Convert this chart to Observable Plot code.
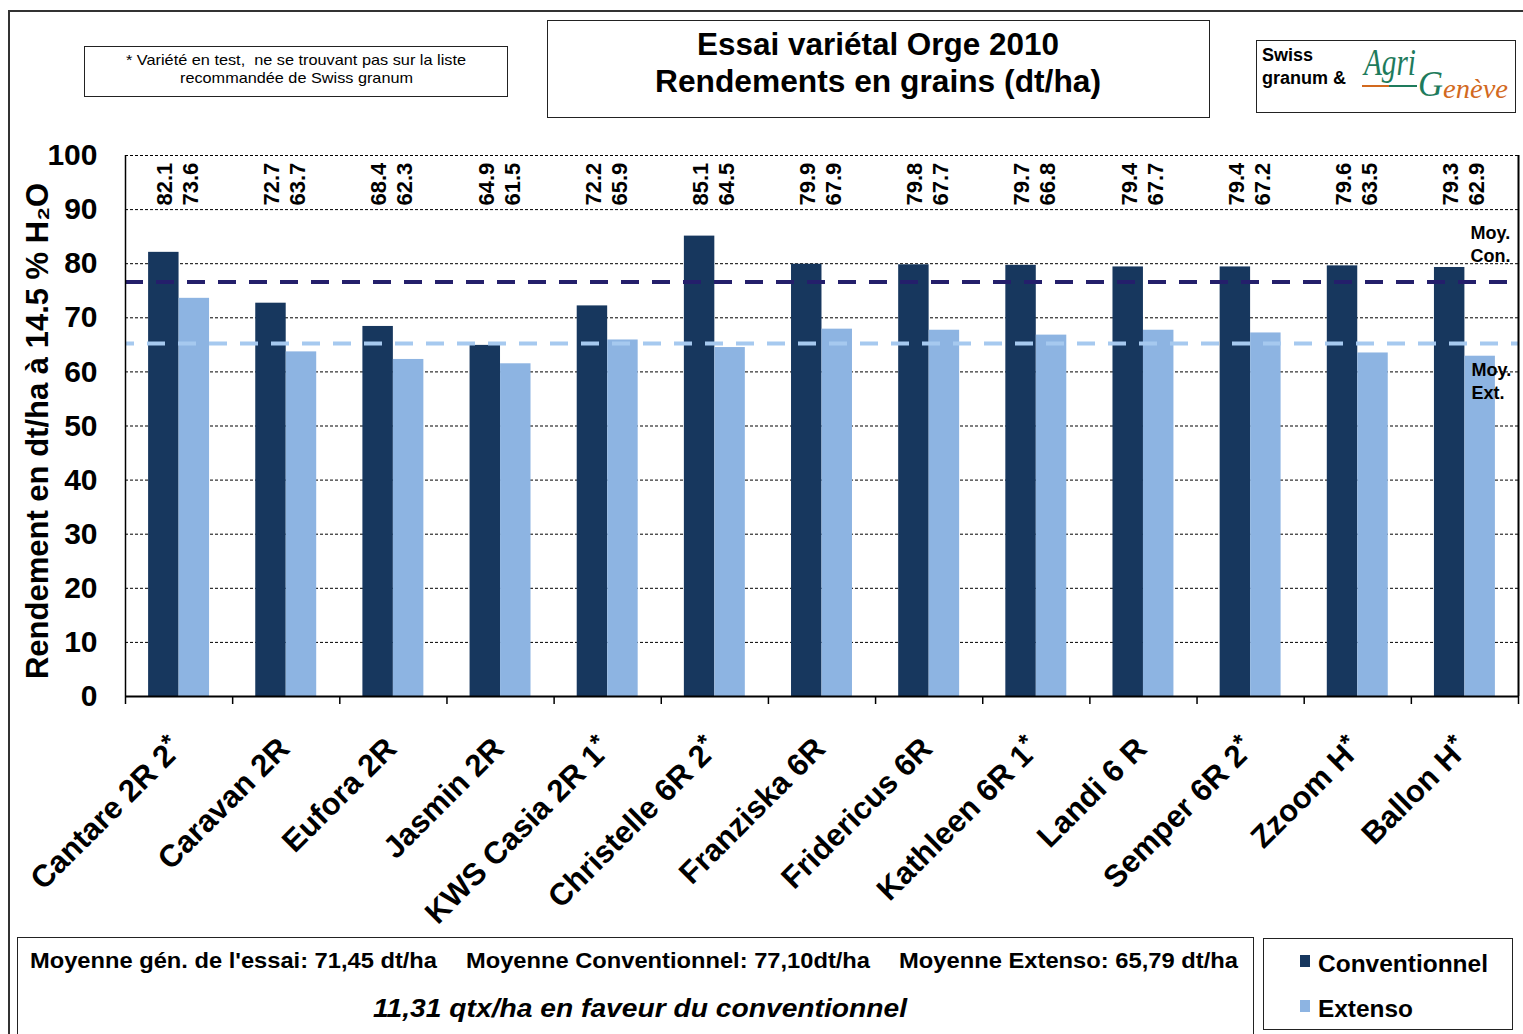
<!DOCTYPE html>
<html><head><meta charset="utf-8">
<script src="https://cdn.jsdelivr.net/npm/d3@7"></script>
<script src="https://cdn.jsdelivr.net/npm/@observablehq/plot@0.6"></script>
<style>
body{margin:0;background:#fff;font-family:"Liberation Sans",Arial,sans-serif;}
#wrap{position:relative;width:1523px;height:1034px;overflow:hidden;background:#fff;}
#chart{position:absolute;left:0;top:0;}
.box{position:absolute;border:1.5px solid #222;box-sizing:border-box;background:#fff;}
.t{position:absolute;white-space:pre;transform-origin:0 50%;color:#000;}
</style></head><body>
<div id="wrap"><div id="chart"></div></div>
<script>
// ---- data ----
const varieties = ["Cantare 2R 2*","Caravan 2R","Eufora 2R","Jasmin 2R","KWS Casia 2R 1*","Christelle 6R 2*","Franziska 6R","Fridericus 6R","Kathleen 6R 1*","Landi 6 R","Semper 6R 2*","Zzoom H*","Ballon H*"];
const conventionnel = [82.1,72.7,68.4,64.9,72.2,85.1,79.9,79.8,79.7,79.4,79.4,79.6,79.3];
const extenso = [73.6,63.7,62.3,61.5,65.9,64.5,67.9,67.7,66.8,67.7,67.2,63.5,62.9];
const moyConLine = [76.6];
const moyExtLine = [65.25];
const yTicks = [0,10,20,30,40,50,60,70,80,90,100];
const yLabel = "Rendement en dt/ha à 14.5 % H₂O";

const dark = "#17375e", light = "#8db4e2";
const FONT = '"Liberation Sans", Arial, sans-serif';
const SERIF = '"Liberation Serif", "DejaVu Serif", serif';
const rows = varieties.map((v,i)=>({v, i, con: conventionnel[i], ext: extenso[i]}));
const bounds = d3.range(0, varieties.length + 1);

const chart = Plot.plot({
  width: 1523, height: 1034,
  marginTop: 155, marginBottom: 338, marginLeft: 125, marginRight: 5,
  style: {fontFamily: FONT, background: "transparent", overflow: "visible", color: "#000"},
  x: {domain: [0, varieties.length], axis: null},
  y: {domain: [0, 100], axis: null},
  marks: [
    Plot.ruleY(yTicks.filter(d => d > 0), {stroke: "#000", strokeWidth: 1, strokeDasharray: "3,2"}),
    Plot.rectY(rows, {x1: d => d.i, x2: d => d.i + 1, y1: 0, y2: "con", fill: dark, insetLeft: 23.1, insetRight: 53.6}),
    Plot.rectY(rows, {x1: d => d.i, x2: d => d.i + 1, y1: 0, y2: "ext", fill: light, insetLeft: 53.6, insetRight: 23.1}),
    Plot.ruleY(moyConLine, {stroke: "#241f6b", strokeWidth: 4, strokeDasharray: "18,13"}),
    Plot.ruleY(moyExtLine, {stroke: "#a6c9ef", strokeWidth: 4, strokeDasharray: "18,13", strokeDashoffset: -22}),
    Plot.ruleX([0], {stroke: "#000", strokeWidth: 1.5}),
    Plot.ruleX([varieties.length], {stroke: "#000", strokeWidth: 2}),
    Plot.ruleY([0], {stroke: "#000", strokeWidth: 2}),
    Plot.axisX({ticks: bounds, tickSize: 8, tickFormat: () => "", stroke: "#000", strokeWidth: 1.5, label: null}),
    Plot.axisY({ticks: yTicks, tickSize: 0, tickPadding: 28, fontSize: 30, fontWeight: "bold", label: null}),
    Plot.text([yLabel], {frameAnchor: "left", dx: -87, dy: 5, rotate: -90, textAnchor: "middle", fontSize: 31, fontWeight: "bold", lineAnchor: "middle"}),
    Plot.text(rows, {x: d => d.i + 0.5, frameAnchor: "top", dy: 50, dx: -14, text: d => d.con.toFixed(1), rotate: -90, textAnchor: "start", lineAnchor: "middle", fontSize: 22, fontWeight: "bold"}),
    Plot.text(rows, {x: d => d.i + 0.5, frameAnchor: "top", dy: 50, dx: 12, text: d => d.ext.toFixed(1), rotate: -90, textAnchor: "start", lineAnchor: "middle", fontSize: 22, fontWeight: "bold"}),
    Plot.text(varieties, {x: (d,i) => i + 0.5, frameAnchor: "bottom", text: d => d, rotate: -45, textAnchor: "end", lineAnchor: "bottom", dx: 5, dy: 54, fontSize: 31, fontWeight: "bold"}),
    Plot.text(["Moy.\nCon."], {frameAnchor: "top-right", dx: -48, dy: 67, textAnchor: "start", lineAnchor: "top", lineHeight: 1.28, fontSize: 18, fontWeight: "bold"}),
    Plot.text(["Moy.\nExt."], {frameAnchor: "top-right", dx: -47, dy: 204, textAnchor: "start", lineAnchor: "top", lineHeight: 1.28, fontSize: 18, fontWeight: "bold"})
  ]
});
document.getElementById("chart").appendChild(chart);

// superscript asterisks on variety labels
chart.querySelectorAll("text").forEach(t => {
  if (t.children.length === 0 && varieties.includes(t.textContent) && t.textContent.endsWith("*")) {
    const base = t.textContent.slice(0, -1);
    t.textContent = base;
    const ts = document.createElementNS("http://www.w3.org/2000/svg", "tspan");
    ts.setAttribute("dy", "-0.35em");
    ts.setAttribute("font-size", "0.8em");
    ts.textContent = "*";
    t.appendChild(ts);
  }
});

// ---- annotations (HTML) ----
const wrap = document.getElementById("wrap");
function box(l, t, w, h, extra) {
  const d = document.createElement("div");
  d.className = "box";
  Object.assign(d.style, {left: l + "px", top: t + "px", width: w + "px", height: h + "px"}, extra || {});
  wrap.appendChild(d);
  return d;
}
function txt(s, o) {
  const d = document.createElement("div");
  d.className = "t";
  d.textContent = s;
  const size = o.size;
  Object.assign(d.style, {
    fontSize: size + "px", lineHeight: size + "px",
    fontWeight: o.weight || "normal", fontStyle: o.style || "normal",
    fontFamily: o.family || FONT, color: o.color || "#000",
    top: (o.y - 0.49 * size) + "px"
  });
  wrap.appendChild(d);
  const w = d.getBoundingClientRect().width;
  const sx = o.width ? o.width / w : 1;
  let left = o.x;
  if (o.anchor === "middle") left = o.x - (o.width || w) / 2;
  d.style.left = left + "px";
  if (o.width) d.style.transform = `scaleX(${sx})`;
  return d;
}
function bar(l, t, w, h, c) {
  const d = document.createElement("div");
  Object.assign(d.style, {position: "absolute", left: l + "px", top: t + "px", width: w + "px", height: h + "px", background: c});
  wrap.appendChild(d);
}

// outer frame
box(8, 10, 1600, 1100, {border: "2px solid #333", background: "transparent"});

// note box
box(84, 46, 424, 51);
txt("* Variété en test,  ne se trouvant pas sur la liste", {x: 296, y: 59, size: 15, anchor: "middle", width: 340});
txt("recommandée de Swiss granum", {x: 296, y: 77, size: 15, anchor: "middle", width: 233});

// title box
box(547, 20, 663, 98);
txt("Essai variétal Orge 2010", {x: 878, y: 44, size: 31, weight: "bold", anchor: "middle", width: 362});
txt("Rendements en grains (dt/ha)", {x: 878, y: 81, size: 31, weight: "bold", anchor: "middle", width: 446});

// logo box
box(1256, 40, 260, 73);
txt("Swiss", {x: 1262, y: 55, size: 18, weight: "bold"});
txt("granum &", {x: 1262, y: 78, size: 18, weight: "bold"});
txt("Agri", {x: 1364, y: 62, size: 38, style: "italic", family: SERIF, color: "#1e7b5c", width: 52});
txt("G", {x: 1418, y: 84, size: 36, style: "italic", family: SERIF, color: "#1e7b5c", width: 25});
txt("enève", {x: 1443, y: 89, size: 28, style: "italic", family: SERIF, color: "#d2691e", width: 65});
bar(1362, 85, 27, 2, "#d2691e");
bar(1389, 85, 28, 2, "#1e7b5c");

// bottom summary box
box(17, 937, 1237, 110);
txt("Moyenne gén. de l'essai: 71,45 dt/ha", {x: 30, y: 961, size: 22, weight: "bold", width: 407});
txt("Moyenne Conventionnel: 77,10dt/ha", {x: 466, y: 961, size: 22, weight: "bold", width: 404});
txt("Moyenne Extenso: 65,79 dt/ha", {x: 899, y: 961, size: 22, weight: "bold", width: 339});
txt("11,31 qtx/ha en faveur du conventionnel", {x: 640, y: 1008, size: 26, weight: "bold", style: "italic", anchor: "middle", width: 534});

// legend box
box(1263, 938, 250, 92);
bar(1300, 955, 10, 12, dark);
bar(1300, 1000, 10, 12, light);
txt("Conventionnel", {x: 1318, y: 964, size: 24, weight: "bold", width: 170});
txt("Extenso", {x: 1318, y: 1009, size: 24, weight: "bold", width: 95});
</script>
</body></html>
